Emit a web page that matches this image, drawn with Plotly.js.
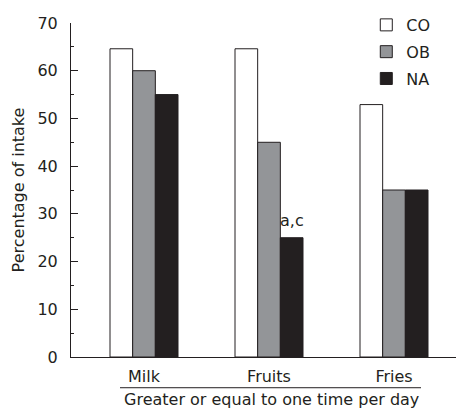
<!DOCTYPE html>
<html><head><meta charset="utf-8">
<script src="https://cdn.plot.ly/plotly-3.0.1.min.js"></script>
<style>html,body{margin:0;padding:0;background:#fff}#chart{width:456px;height:408px}</style>
</head><body><div id="chart"></div>
<script>
const categories = ['Milk', 'Fruits', 'Fries'];
const seriesNames = ['CO', 'OB', 'NA'];
const coValues = [64.6, 64.6, 52.9];
const obValues = [60, 45, 35];
const naValues = [55, 25, 35];
const yTickValues = [0, 10, 20, 30, 40, 50, 60, 70];
const naNote = {category: 'Fruits', value: 25, text: 'a,c'};
const xTitle = 'Greater or equal to one time per day';
const yTitle = 'Percentage of intake';

const ink = '#231f20';
const fnt = 'DejaVu Sans, Verdana, sans-serif';
const fs = 16;
const fills = ['#ffffff', '#939598', '#231f20'];
const values = [coValues, obValues, naValues];

const traces = seriesNames.map((n, i) => ({
  type: 'bar', name: n, x: categories, y: values[i],
  legendgroup: n,
  marker: {color: fills[i], line: {color: ink, width: 1}},
  hoverinfo: 'skip'
}));

const layout = {
  width: 456, height: 408,
  margin: {l: 71, r: 0, t: 23, b: 51},
  paper_bgcolor: '#fff', plot_bgcolor: '#fff',
  font: {family: fnt, size: fs, color: ink},
  barmode: 'group', bargap: 0.456, bargroupgap: 0,
  showlegend: true,
  legend: {x: 0.767, y: 1.045, xanchor: 'left', yanchor: 'top', traceorder: 'grouped',
           tracegroupgap: 3, font: {family: fnt, size: fs, color: ink}, bgcolor: 'rgba(0,0,0,0)'},
  xaxis: {
    type: 'category', range: [-0.584, 2.496], showline: true, linecolor: ink, linewidth: 1,
    ticks: '', showgrid: false, zeroline: false, fixedrange: true,
    tickfont: {family: fnt, size: fs, color: ink}, ticklabelstandoff: 5
  },
  yaxis: {
    range: [0, 70], tickvals: yTickValues, showline: true, linecolor: ink, linewidth: 1,
    ticks: 'inside', ticklen: 7, tickcolor: ink, tickwidth: 1,
    minor: {dtick: 5, ticks: 'inside', ticklen: 3, tickcolor: ink, tickwidth: 1, showgrid: false},
    showgrid: false, zeroline: false, fixedrange: true,
    tickfont: {family: fnt, size: fs, color: ink}, ticklabelstandoff: 9,
    title: {text: yTitle, font: {family: fnt, size: fs, color: ink}, standoff: 8}
  },
  shapes: [{
    type: 'line', xref: 'x', yref: 'paper', x0: -0.192, x1: 2.216, y0: -0.092, y1: -0.092,
    line: {color: ink, width: 1}
  }],
  annotations: [{
    x: naNote.category, y: naNote.value, xref: 'x', yref: 'y', text: naNote.text,
    showarrow: false, xshift: 22.5, yanchor: 'bottom', yshift: 6,
    font: {family: fnt, size: fs, color: ink}
  }, {
    x: 0.522, y: -0.1287, xref: 'paper', yref: 'paper', text: xTitle,
    showarrow: false, xanchor: 'center', yanchor: 'middle',
    font: {family: fnt, size: fs, color: ink}
  }]
};

Plotly.newPlot('chart', traces, layout, {displayModeBar: false, staticPlot: true});
</script></body></html>
